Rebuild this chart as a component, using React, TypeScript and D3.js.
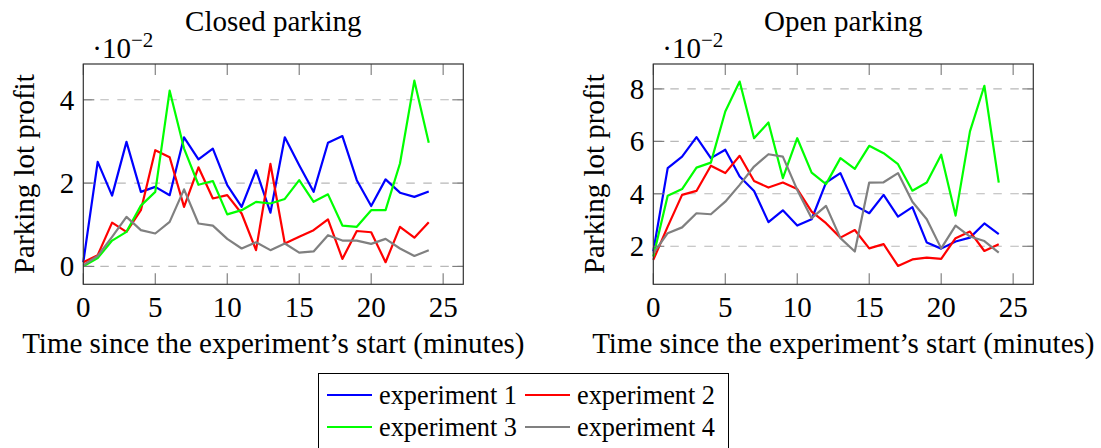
import React from 'react';
import * as d3 from 'd3';

// minutes since the experiment's start
const minutes = [0, 1, 2, 3, 4, 5, 6, 7, 8, 9, 10, 11, 12, 13, 14, 15, 16, 17, 18, 19, 20, 21, 22, 23, 24];

// closed parking (x 10^-2)
const closedExp1 = [0.1, 2.51, 1.7, 2.99, 1.79, 1.91, 1.71, 3.1, 2.57, 2.83, 1.95, 1.43, 2.31, 1.29, 3.1, 2.43, 1.79, 2.97, 3.13, 2.07, 1.45, 2.09, 1.77, 1.67, 1.8];
const closedExp2 = [0.1, 0.27, 1.05, 0.83, 1.35, 2.79, 2.62, 1.43, 2.38, 1.63, 1.71, 1.27, 0.39, 2.46, 0.55, 0.71, 0.87, 1.13, 0.18, 0.85, 0.82, 0.1, 0.95, 0.69, 1.06];
const closedExp3 = [0, 0.2, 0.62, 0.83, 1.46, 1.79, 4.22, 2.83, 1.96, 2.05, 1.25, 1.35, 1.55, 1.51, 1.62, 2.07, 1.55, 1.73, 0.98, 0.95, 1.35, 1.35, 2.47, 4.46, 2.97];
const closedExp4 = [0.03, 0.25, 0.71, 1.19, 0.87, 0.79, 1.07, 1.85, 1.03, 0.98, 0.66, 0.43, 0.58, 0.39, 0.55, 0.33, 0.36, 0.75, 0.62, 0.62, 0.54, 0.66, 0.43, 0.25, 0.39];

// open parking (x 10^-2)
const openExp1 = [1.8, 4.98, 5.42, 6.16, 5.36, 5.68, 4.66, 4.11, 2.92, 3.37, 2.79, 3.03, 4.43, 4.79, 3.56, 3.26, 3.96, 3.13, 3.49, 2.14, 1.91, 2.18, 2.33, 2.87, 2.46];
const openExp2 = [1.48, 2.75, 3.96, 4.11, 5.07, 4.79, 5.45, 4.49, 4.24, 4.43, 4.18, 3.32, 2.88, 2.33, 2.62, 1.92, 2.08, 1.25, 1.5, 1.57, 1.52, 2.31, 2.56, 1.82, 2.08];
const openExp3 = [1.61, 3.93, 4.18, 5.0, 5.19, 7.14, 8.28, 6.12, 6.72, 4.6, 6.12, 4.81, 4.37, 5.36, 4.95, 5.83, 5.55, 5.13, 4.12, 4.43, 5.49, 3.17, 6.38, 8.12, 4.43];
const openExp4 = [1.73, 2.5, 2.72, 3.26, 3.22, 3.7, 4.34, 5.04, 5.51, 5.42, 4.15, 3.07, 3.54, 2.31, 1.8, 4.43, 4.44, 4.79, 3.7, 3.03, 1.92, 2.79, 2.37, 2.2, 1.76];

const seriesNames = ['experiment 1', 'experiment 2', 'experiment 3', 'experiment 4'];
const seriesColors = ['#0000ff', '#ff0000', '#00ff00', '#808080'];

const xTicks = [0, 5, 10, 15, 20, 25];
const closedYTicks = [0, 2, 4];
const openYTicks = [2, 4, 6, 8];

const FONT = '"Liberation Serif", "Times New Roman", serif';
const FS = 29;
const LEGEND_FS = 26.3;
const TICK = 11;

type PanelProps = {
  title: string;
  left: number;
  series: number[][];
  yDomain: [number, number];
  yTicks: number[];
};

const TOP = 64;
const BOTTOM = 284.3;
const WIDTH = 380;

function Panel({ title, left, series, yDomain, yTicks }: PanelProps) {
  const x = d3.scaleLinear().domain([0, 26.4]).range([left, left + WIDTH]);
  const y = d3.scaleLinear().domain(yDomain).range([BOTTOM, TOP]);
  const line = d3
    .line<number>()
    .x((d, i) => x(minutes[i]))
    .y((d) => y(d));
  const cx = left + WIDTH / 2;

  return (
    <g>
      <text x={cx} y={31} textAnchor="middle" fontSize={FS}>
        {title}
      </text>
      <text x={left + 9} y={58} fontSize={FS}>
        ·10
        <tspan dy={-11} fontSize={21}>−2</tspan>
      </text>

      {/* grid */}
      {yTicks.map((t) => (
        <line key={'g' + t} x1={left} x2={left + WIDTH} y1={y(t)} y2={y(t)}
          stroke="#b8b8b8" strokeWidth={1.1} strokeDasharray="8.5,8.5" />
      ))}

      {/* data */}
      {series.map((s, k) => (
        <path key={k} d={line(s) || ''} fill="none" stroke={seriesColors[k]}
          strokeWidth={2.2} strokeLinejoin="round" />
      ))}

      {/* ticks */}
      {xTicks.map((t) => (
        <g key={'x' + t}>
          <line x1={x(t)} x2={x(t)} y1={BOTTOM} y2={BOTTOM - TICK} stroke="#777" strokeWidth={1.1} />
          <line x1={x(t)} x2={x(t)} y1={TOP} y2={TOP + TICK} stroke="#777" strokeWidth={1.1} />
          <text x={x(t)} y={317} textAnchor="middle" fontSize={FS}>{t}</text>
        </g>
      ))}
      {yTicks.map((t) => (
        <g key={'y' + t}>
          <line x1={left} x2={left + TICK} y1={y(t)} y2={y(t)} stroke="#777" strokeWidth={1.1} />
          <line x1={left + WIDTH} x2={left + WIDTH - TICK} y1={y(t)} y2={y(t)} stroke="#777" strokeWidth={1.1} />
          <text x={left - 9} y={y(t) + 10} textAnchor="end" fontSize={FS}>{t}</text>
        </g>
      ))}

      <rect x={left} y={TOP} width={WIDTH} height={BOTTOM - TOP} fill="none" stroke="#333" strokeWidth={1.2} />

      <text x={cx} y={353} textAnchor="middle" fontSize={FS}>
        Time since the experiment’s start (minutes)
      </text>
      <text transform={`translate(${left - 49},${(TOP + BOTTOM) / 2}) rotate(-90)`}
        textAnchor="middle" fontSize={FS}>
        Parking lot profit
      </text>
    </g>
  );
}

export default function App() {
  const legendCols = [327, 525];
  const legendRows = [395, 427];
  return (
    <svg width={1101} height={448} style={{ position: 'absolute', left: 0, top: 0 }}
      fontFamily={FONT} fill="#000">
      <rect width={1101} height={448} fill="#fff" />
      <Panel title="Closed parking" left={83.3}
        series={[closedExp1, closedExp2, closedExp3, closedExp4]}
        yDomain={[-0.43, 4.86]} yTicks={closedYTicks} />
      <Panel title="Open parking" left={653.3}
        series={[openExp1, openExp2, openExp3, openExp4]}
        yDomain={[0.55, 8.95]} yTicks={openYTicks} />

      <rect x={318.5} y={373.5} width={410} height={80} fill="#fff" stroke="#000" strokeWidth={1} />
      {seriesNames.map((name, i) => {
        const lx = legendCols[i % 2];
        const ly = legendRows[Math.floor(i / 2)];
        return (
          <g key={name}>
            <line x1={lx} x2={lx + 45} y1={ly} y2={ly} stroke={seriesColors[i]} strokeWidth={2} />
            <text x={lx + 52} y={ly + 8.5} fontSize={LEGEND_FS}>{name}</text>
          </g>
        );
      })}
    </svg>
  );
}
